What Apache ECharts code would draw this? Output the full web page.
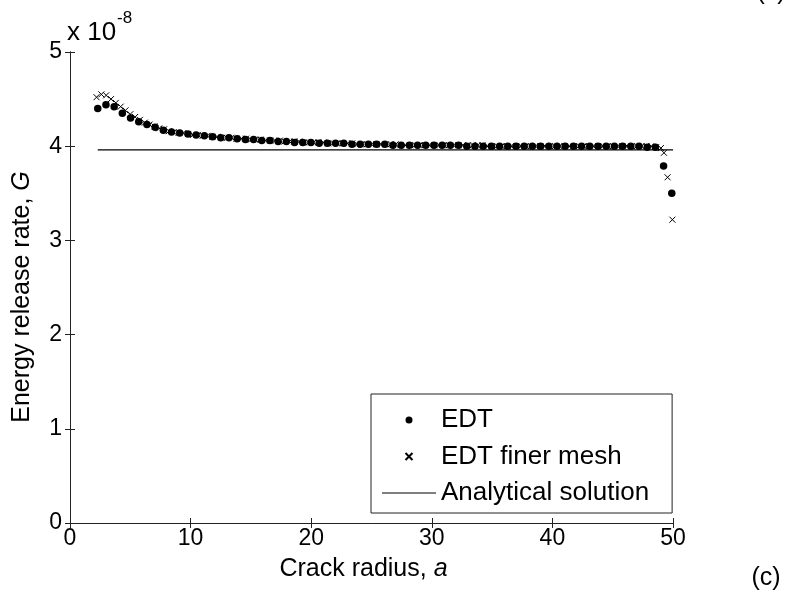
<!DOCTYPE html>
<html>
<head>
<meta charset="utf-8">
<script src="https://cdn.jsdelivr.net/npm/echarts@6/dist/echarts.min.js"></script>
<style>
  html, body { margin: 0; padding: 0; background: #fff; }
  #main { width: 797px; height: 604px; }
</style>
</head>
<body>
<div id="main"></div>
<script>
// crack radius a and energy release rate G (in units of 1e-8)
var edtA = [
  2.3, 2.98, 3.66, 4.34, 5.02, 5.7, 6.38, 7.06, 7.74, 8.42,
  9.1, 9.78, 10.46, 11.14, 11.82, 12.5, 13.18, 13.86, 14.54, 15.22,
  15.9, 16.58, 17.26, 17.94, 18.62, 19.3, 19.98, 20.66, 21.34, 22.02,
  22.7, 23.38, 24.06, 24.74, 25.42, 26.1, 26.78, 27.46, 28.14, 28.82,
  29.5, 30.18, 30.86, 31.54, 32.22, 32.9, 33.58, 34.26, 34.94, 35.62,
  36.3, 36.98, 37.66, 38.34, 39.02, 39.7, 40.38, 41.06, 41.74, 42.42,
  43.1, 43.78, 44.46, 45.14, 45.82, 46.5, 47.18, 47.86, 48.54, 49.22,
  49.9
];
var edtG = [
  4.40, 4.44, 4.42, 4.35, 4.30, 4.26, 4.23, 4.20, 4.17, 4.15,
  4.14, 4.13, 4.12, 4.11, 4.10, 4.09, 4.09, 4.08, 4.07, 4.07,
  4.06, 4.06, 4.05, 4.05, 4.04, 4.04, 4.04, 4.03, 4.03, 4.03,
  4.03, 4.02, 4.02, 4.02, 4.02, 4.02, 4.01, 4.01, 4.01, 4.01,
  4.01, 4.01, 4.01, 4.01, 4.01, 4.00, 4.00, 4.00, 4.00, 4.00,
  4.00, 4.00, 4.00, 4.00, 4.00, 4.00, 4.00, 4.00, 4.00, 4.00,
  4.00, 4.00, 4.00, 4.00, 4.00, 4.00, 4.00, 3.99, 3.99, 3.79,
  3.50
];
var fineA = [
  2.2, 2.6, 3.0, 3.4, 3.8, 4.2, 4.6, 5.0, 5.4, 5.8,
  6.2, 6.6, 7.0, 7.4, 7.8, 8.2, 8.6, 9.0, 9.4, 9.8,
  10.2, 10.6, 11.0, 11.4, 11.8, 12.2, 12.6, 13.0, 13.4, 13.8,
  14.2, 14.6, 15.0, 15.4, 15.8, 16.2, 16.6, 17.0, 17.4, 17.8,
  18.2, 18.6, 19.0, 19.4, 19.8, 20.2, 20.6, 21.0, 21.4, 21.8,
  22.2, 22.6, 23.0, 23.4, 23.8, 24.2, 24.6, 25.0, 25.4, 25.8,
  26.2, 26.6, 27.0, 27.4, 27.8, 28.2, 28.6, 29.0, 29.4, 29.8,
  30.2, 30.6, 31.0, 31.4, 31.8, 32.2, 32.6, 33.0, 33.4, 33.8,
  34.2, 34.6, 35.0, 35.4, 35.8, 36.2, 36.6, 37.0, 37.4, 37.8,
  38.2, 38.6, 39.0, 39.4, 39.8, 40.2, 40.6, 41.0, 41.4, 41.8,
  42.2, 42.6, 43.0, 43.4, 43.8, 44.2, 44.6, 45.0, 45.4, 45.8,
  46.2, 46.6, 47.0, 47.4, 47.8, 48.2, 48.6,
  49.0, 49.25, 49.55, 49.95
];
var fineG = [
  4.52, 4.55, 4.54, 4.50, 4.46, 4.42, 4.38, 4.34, 4.31, 4.28,
  4.25, 4.23, 4.21, 4.19, 4.18, 4.16, 4.15, 4.14, 4.14, 4.13,
  4.12, 4.12, 4.11, 4.11, 4.10, 4.10, 4.09, 4.09, 4.09, 4.08,
  4.08, 4.08, 4.07, 4.07, 4.07, 4.06, 4.06, 4.06, 4.06, 4.05,
  4.05, 4.05, 4.05, 4.04, 4.04, 4.04, 4.04, 4.04, 4.03, 4.03,
  4.03, 4.03, 4.03, 4.03, 4.02, 4.02, 4.02, 4.02, 4.02, 4.02,
  4.02, 4.02, 4.02, 4.01, 4.01, 4.01, 4.01, 4.01, 4.01, 4.01,
  4.01, 4.01, 4.01, 4.01, 4.01, 4.01, 4.01, 4.01, 4.01, 4.01,
  4.01, 4.00, 4.00, 4.00, 4.00, 4.00, 4.00, 4.00, 4.00, 4.00,
  4.00, 4.00, 4.00, 4.00, 4.00, 4.00, 4.00, 4.00, 4.00, 4.00,
  4.00, 4.00, 4.00, 4.00, 4.00, 4.00, 4.00, 4.00, 4.00, 4.00,
  4.00, 4.00, 4.00, 4.00, 4.00, 4.00, 3.99,
  3.98, 3.93, 3.67, 3.22
];
var analyticA = [2.3, 50];
var analyticG = [3.96, 3.96];

var seriesNames = ['EDT', 'EDT finer mesh', 'Analytical solution'];

function pairs(xs, ys) {
  return xs.map(function (x, i) { return [x, ys[i]]; });
}

var FONT = 'Liberation Sans';
var axisColor = '#222';

var chart = echarts.init(document.getElementById('main'));

chart.setOption({
  animation: false,
  backgroundColor: '#fff',
  textStyle: { fontFamily: FONT },
  grid: { left: 70, right: 124, top: 52, bottom: 81 },
  xAxis: [{
    type: 'value', min: 0, max: 50, interval: 10,
    name: 'Crack radius, {i|a}',
    nameLocation: 'middle', nameGap: 34,
    nameTextStyle: {
      color: '#000', fontSize: 25, fontFamily: FONT, padding: [0, 16, 0, 0],
      rich: { i: { fontStyle: 'italic', fontSize: 25, fontFamily: FONT, color: '#000' } }
    },
    axisLine: { lineStyle: { color: axisColor, width: 1 } },
    axisTick: { inside: true, length: 5, lineStyle: { color: axisColor } },
    axisLabel: { color: '#000', fontSize: 23, margin: 4, fontFamily: FONT },
    splitLine: { show: false }
  }, {
    type: 'value', min: 0, max: 50, interval: 10, position: 'top',
    axisLine: { lineStyle: { color: axisColor, width: 1 } },
    axisTick: { inside: true, length: 5, lineStyle: { color: axisColor } },
    axisLabel: { show: false },
    splitLine: { show: false }
  }],
  yAxis: [{
    type: 'value', min: 0, max: 5, interval: 1,
    axisLine: { show: true, lineStyle: { color: axisColor, width: 1 } },
    axisTick: { show: true, inside: true, length: 5, lineStyle: { color: axisColor } },
    axisLabel: { color: '#000', fontSize: 23, margin: 8, fontFamily: FONT },
    splitLine: { show: false }
  }, {
    type: 'value', min: 0, max: 5, interval: 1, position: 'right',
    axisLine: { show: true, lineStyle: { color: axisColor, width: 1 } },
    axisTick: { show: true, inside: true, length: 5, lineStyle: { color: axisColor } },
    axisLabel: { show: false },
    splitLine: { show: false }
  }],
  legend: {
    orient: 'vertical',
    left: 371, top: 394,
    padding: [13, 23, 7, 11],
    itemWidth: 54, itemHeight: 7, itemGap: 10.5,
    backgroundColor: '#fff',
    borderColor: '#222', borderWidth: 1,
    textStyle: { color: '#000', fontSize: 26, fontFamily: FONT },
    data: [
      { name: seriesNames[0] },
      { name: seriesNames[1] },
      { name: seriesNames[2], icon: 'path://M0,0H54V1H0Z' }
    ]
  },
  series: [{
    name: seriesNames[1],
    type: 'scatter',
    data: pairs(fineA, fineG),
    symbol: 'path://M0,0L10,10M10,0L0,10',
    symbolSize: 6,
    itemStyle: { color: 'none', borderColor: '#000', borderWidth: 1, opacity: 1 },
    z: 3
  }, {
    name: seriesNames[0],
    type: 'scatter',
    data: pairs(edtA, edtG),
    symbol: 'circle',
    symbolSize: 7.5,
    itemStyle: { color: '#000', opacity: 1 },
    z: 4
  }, {
    name: seriesNames[2],
    type: 'line',
    data: pairs(analyticA, analyticG),
    showSymbol: false,
    symbol: 'none',
    lineStyle: { color: '#000', width: 1.3 },
    itemStyle: { color: '#000' },
    z: 2
  }],
  graphic: [{
    type: 'text',
    x: 22, y: 297,
    rotation: Math.PI / 2,
    style: {
      text: 'Energy release rate, {i|G}',
      fontSize: 25, fontFamily: FONT, fill: '#000',
      align: 'center', verticalAlign: 'middle',
      rich: { i: { fontStyle: 'italic', fontSize: 25, fontFamily: FONT, fill: '#000' } }
    }
  }, {
    type: 'text',
    x: 67, y: 33,
    style: { text: 'x 10', fontSize: 26, fontFamily: FONT, fill: '#000', verticalAlign: 'middle' }
  }, {
    type: 'text',
    x: 117, y: 18,
    style: { text: '-8', fontSize: 17, fontFamily: FONT, fill: '#000', verticalAlign: 'middle' }
  }, {
    type: 'text',
    x: 766, y: 578,
    style: { text: '(c)', fontSize: 25, fontFamily: FONT, fill: '#000', align: 'center', verticalAlign: 'middle' }
  }, {
    type: 'text',
    x: 771, y: 5,
    style: { text: '(c)', fontSize: 25, fontFamily: FONT, fill: '#000', align: 'center', verticalAlign: 'bottom' }
  }]
});
</script>
</body>
</html>
